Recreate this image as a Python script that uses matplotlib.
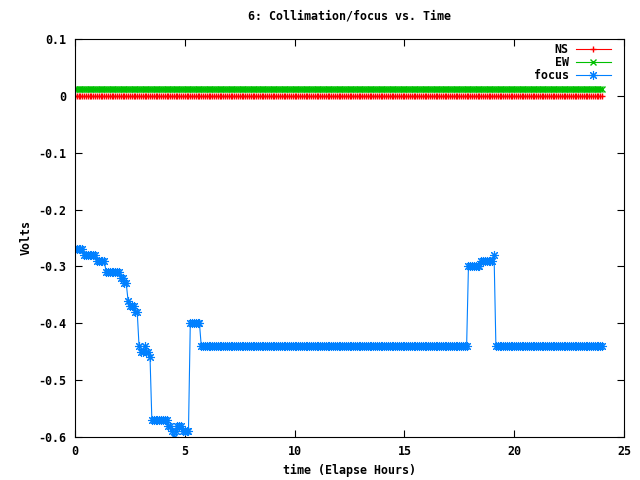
import numpy as np
import matplotlib
matplotlib.use("Agg")
import matplotlib.pyplot as plt

# samples every 5 minutes over 24 hours
sample_minutes = 5
hours_total = 24

ns_level = 0.0
ew_level = 0.012

# focus voltage: step level and the hour at which it ends
focus_level = [-0.27, -0.28, -0.29, -0.31, -0.32, -0.33, -0.36, -0.37, -0.38,
               -0.44, -0.45, -0.44, -0.45, -0.46, -0.57, -0.58, -0.59, -0.60,
               -0.59, -0.58, -0.59, -0.40, -0.44, -0.30, -0.29, -0.28, -0.44]
focus_until = [0.40, 0.95, 1.40, 2.05, 2.20, 2.35, 2.50, 2.75, 2.85,
               3.00, 3.15, 3.25, 3.35, 3.50, 4.20, 4.35, 4.45, 4.55,
               4.65, 4.85, 5.25, 5.75, 17.90, 18.45, 19.05, 19.15, 24.01]

t = np.arange(0, hours_total * 60 + 1, sample_minutes) / 60.0
idx = np.searchsorted(focus_until, t, side='right')
idx = np.clip(idx, 0, len(focus_level) - 1)
focus = np.array(focus_level)[idx]
ns = np.full(len(t), ns_level)
ew = np.full(len(t), ew_level)

plt.rcParams['font.family'] = 'DejaVu Sans Mono'
plt.rcParams['font.size'] = 8.4
plt.rcParams['font.weight'] = 'bold'

fig = plt.figure(figsize=(6.4, 4.8), dpi=100)
ax = fig.add_axes([75 / 640, 1 - 437 / 480, (624 - 75) / 640, (437 - 39) / 480])

ax.plot(t, ns, color='#ff0000', marker='+', markersize=5, linewidth=0.8, label='NS')
ax.plot(t, ew, color='#00c000', marker='x', markersize=4, linewidth=0.8, label='EW')
ax.plot(t, focus, color='#0080ff', marker=(8, 2, 0), markersize=6.5, markeredgewidth=0.8,
        linewidth=0.8, label='focus')

ax.set_xlim(0, 25)
ax.set_ylim(-0.6, 0.1)
ax.set_xticks([0, 5, 10, 15, 20, 25])
ax.set_yticks([-0.6, -0.5, -0.4, -0.3, -0.2, -0.1, 0, 0.1])
ax.set_yticklabels(['-0.6', '-0.5', '-0.4', '-0.3', '-0.2', '-0.1', '0', '0.1'])
ax.tick_params(direction='in', top=True, right=True, length=5, width=0.8, pad=6)
for s in ax.spines.values():
    s.set_linewidth(0.8)

ax.set_title('6: Collimation/focus vs. Time', fontsize=8.4, fontweight='bold', pad=14)
ax.set_xlabel('time (Elapse Hours)', fontweight='bold')
ax.set_ylabel('Volts', fontweight='bold')

ax.legend(loc='upper right', frameon=False, markerfirst=False, handlelength=3.0,
          labelspacing=0.0, borderaxespad=0.1, borderpad=0.1, handletextpad=0.6,
          bbox_to_anchor=(0.98, 0.995))

fig.savefig('out.png', dpi=100)
